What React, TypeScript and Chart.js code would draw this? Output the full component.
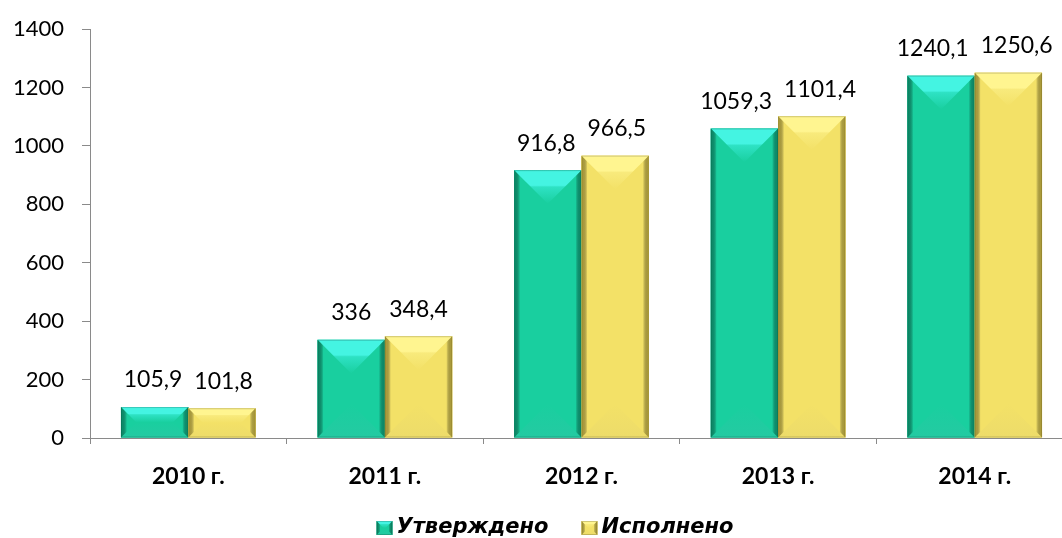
import React, { useEffect, useRef } from "react";
import { Chart, registerables } from "chart.js";

Chart.register(...registerables);

const categories = ["2010 г.", "2011 г.", "2012 г.", "2013 г.", "2014 г."];
const approved = [105.9, 336, 916.8, 1059.3, 1240.1];
const executed = [101.8, 348.4, 966.5, 1101.4, 1250.6];
const seriesNames = ["Утверждено", "Исполнено"];
const yTicks = [0, 200, 400, 600, 800, 1000, 1200, 1400];

const palettes = [
  { body: "#19cf9f", light: "#44f4e2", mid: "#2ee2c4", dark: "#0c9a74", bottom: "#24caa2" },
  { body: "#f3e167", light: "#fff590", mid: "#f8ea7c", dark: "#c4b03c", bottom: "#eddc6a" },
];

const FONT = "Lato, 'Open Sans', sans-serif";
const LEGEND_FONT = "'DejaVu Sans', Verdana, sans-serif";

function fmt(v: number) {
  return String(v).replace(".", ",");
}

function drawBevel(ctx: CanvasRenderingContext2D, x0: number, y0: number, x1: number, y1: number, p: any) {
  const w = x1 - x0;
  const h = y1 - y0;
  if (w <= 0 || h <= 0) return;
  const d = Math.min(w / 2, h / 2);
  ctx.save();
  ctx.fillStyle = p.body;
  ctx.fillRect(x0, y0, w, h);
  const g = ctx.createLinearGradient(0, y0, 0, y0 + d);
  g.addColorStop(0, p.light);
  g.addColorStop(0.45, p.light);
  g.addColorStop(0.5, p.mid);
  g.addColorStop(1, p.body);
  ctx.fillStyle = g;
  ctx.beginPath();
  ctx.moveTo(x0, y0);
  ctx.lineTo(x1, y0);
  ctx.lineTo(x1 - d, y0 + d);
  ctx.lineTo(x0 + d, y0 + d);
  ctx.closePath();
  ctx.fill();
  const gb = ctx.createLinearGradient(0, y1, 0, y1 - d);
  gb.addColorStop(0, p.bottom);
  gb.addColorStop(1, p.body);
  ctx.fillStyle = gb;
  ctx.beginPath();
  ctx.moveTo(x0, y1);
  ctx.lineTo(x1, y1);
  ctx.lineTo(x1 - d, y1 - d);
  ctx.lineTo(x0 + d, y1 - d);
  ctx.closePath();
  ctx.fill();
  const e = Math.min(6, w / 4);
  const gl = ctx.createLinearGradient(x0, 0, x0 + e, 0);
  gl.addColorStop(0, p.dark);
  gl.addColorStop(1, "rgba(0,0,0,0)");
  ctx.fillStyle = gl;
  ctx.beginPath();
  ctx.moveTo(x0, y0);
  ctx.lineTo(x0 + e, y0 + e);
  ctx.lineTo(x0 + e, y1 - e);
  ctx.lineTo(x0, y1);
  ctx.closePath();
  ctx.fill();
  const gr = ctx.createLinearGradient(x1, 0, x1 - e, 0);
  gr.addColorStop(0, p.dark);
  gr.addColorStop(1, "rgba(0,0,0,0)");
  ctx.fillStyle = gr;
  ctx.beginPath();
  ctx.moveTo(x1, y0);
  ctx.lineTo(x1 - e, y0 + e);
  ctx.lineTo(x1 - e, y1 - e);
  ctx.lineTo(x1, y1);
  ctx.closePath();
  ctx.fill();
  ctx.strokeStyle = "rgba(0,0,0,0.18)";
  ctx.lineWidth = 1;
  ctx.strokeRect(x0 + 0.5, y0 + 0.5, w - 1, h - 1);
  ctx.restore();
}

const bevelPlugin = {
  id: "bevel",
  afterDatasetsDraw(chart: any) {
    const ctx = chart.ctx;
    const nCat = chart.data.labels.length;
    const nDs = chart.data.datasets.length;
    for (let di = 0; di < nDs; di++) {
      const meta = chart.getDatasetMeta(di);
      meta.data.forEach((bar: any) => {
        const { x, y, base, width } = bar.getProps(["x", "y", "base", "width"], true);
        drawBevel(ctx, x - width / 2, y, x + width / 2, base, palettes[di]);
      });
    }
    ctx.save();
    ctx.font = `23px ${FONT}`;
    ctx.fillStyle = "#000";
    ctx.textAlign = "center";
    ctx.textBaseline = "middle";
    const minGap = 12;
    for (let i = 0; i < nCat; i++) {
      const items: any[] = [];
      for (let di = 0; di < nDs; di++) {
        const bar = chart.getDatasetMeta(di).data[i];
        const { x, y } = bar.getProps(["x", "y"], true);
        const text = fmt(chart.data.datasets[di].data[i]);
        items.push({ x, y: y - 27, text, w: ctx.measureText(text).width });
      }
      for (let k = 1; k < items.length; k++) {
        const a = items[k - 1];
        const b = items[k];
        const gap = b.x - b.w / 2 - (a.x + a.w / 2);
        if (gap < minGap && Math.abs(a.y - b.y) < 20) {
          const push = (minGap - gap) / 2;
          a.x -= push;
          b.x += push;
        }
      }
      items.forEach((it) => ctx.fillText(it.text, it.x, it.y));
    }
    ctx.restore();
  },
};

const legendPlugin = {
  id: "customLegend",
  afterDraw(chart: any) {
    const ctx = chart.ctx;
    ctx.save();
    ctx.font = `italic bold 21px ${LEGEND_FONT}`;
    const boxW = 16;
    const boxH = 14;
    const gapBoxText = 4;
    const gapItems = 33;
    const widths = seriesNames.map((n) => ctx.measureText(n).width);
    const total = widths.reduce((a, w) => a + boxW + gapBoxText + w, 0) + gapItems * (seriesNames.length - 1);
    let x = chart.width / 2 - total / 2 + 3;
    const cy = chart.height - 10;
    seriesNames.forEach((n, i) => {
      drawBevel(ctx, x, cy - boxH / 2, x + boxW, cy + boxH / 2, palettes[i]);
      x += boxW + gapBoxText;
      ctx.fillStyle = "#000";
      ctx.textAlign = "left";
      ctx.textBaseline = "middle";
      ctx.fillText(n, x, cy);
      x += widths[i] + gapItems;
    });
    ctx.restore();
  },
};

export default function App() {
  const ref = useRef<HTMLCanvasElement | null>(null);
  useEffect(() => {
    if (!ref.current) return;
    const chart = new Chart(ref.current, {
      type: "bar",
      data: {
        labels: categories,
        datasets: [
          { label: seriesNames[0], data: approved, backgroundColor: palettes[0].body },
          { label: seriesNames[1], data: executed, backgroundColor: palettes[1].body },
        ],
      },
      plugins: [bevelPlugin, legendPlugin],
      options: {
        animation: false,
        responsive: true,
        maintainAspectRatio: false,
        layout: { padding: { top: 29, right: 31, bottom: 0, left: 0 } },
        datasets: { bar: { categoryPercentage: 0.685, barPercentage: 1 } },
        plugins: {
          tooltip: { enabled: false },
          legend: { display: false },
        },
        scales: {
          x: {
            border: { color: "#8a8a8a", width: 1 },
            grid: { drawOnChartArea: false, tickLength: 6, color: "#8a8a8a", offset: true },
            ticks: { color: "#000", padding: 19, font: { family: FONT, size: 23, weight: "bold" } },
            afterFit: (s: any) => {
              s.height = 100;
            },
          },
          y: {
            min: 0,
            max: 1400,
            afterBuildTicks: (s: any) => {
              s.ticks = yTicks.map((v) => ({ value: v }));
            },
            border: { color: "#8a8a8a", width: 1 },
            grid: { drawOnChartArea: false, tickLength: 8, color: "#8a8a8a" },
            ticks: {
              color: "#000",
              padding: 18,
              font: { family: FONT, size: 22 },
              callback: (v: any) => String(v),
            },
            afterFit: (s: any) => {
              s.width = 90;
              s.paddingTop = 0;
              s.paddingBottom = 0;
            },
          },
        },
      },
    } as any);
    return () => chart.destroy();
  }, []);
  return (
    <div style={{ position: "fixed", left: 0, top: 0, width: 1062, height: 538, overflow: "hidden", background: "#fff" }}>
      <div style={{ position: "relative", width: 1104, height: 538 }}>
        <canvas ref={ref} />
      </div>
    </div>
  );
}
